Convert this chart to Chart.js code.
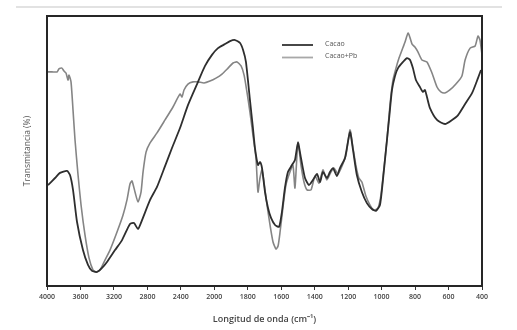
<!DOCTYPE html>
<html>
<head>
<meta charset="utf-8">
<script src="https://cdn.jsdelivr.net/npm/chart.js@4.4.1/dist/chart.umd.min.js"></script>
<style>
  body { margin: 0; background: #fff; }
  #wrap { position: relative; width: 517px; height: 330px; }
  #rule { position: absolute; left: 16px; top: 6px; width: 486px; height: 2px; background: #e2e2e2; }
</style>
</head>
<body>
<div id="wrap">
  <div id="rule"></div>
  <canvas id="myChart" width="517" height="330"></canvas>
</div>
<script>
// FTIR spectra, wavenumber (cm-1) vs transmittance (%)
var tickLabels = [4000, 3600, 3200, 2800, 2400, 2000, 1800, 1600, 1400, 1200, 1000, 800, 600, 400];

var cacaoWn = [3988,3904,3845,3761,3725,3689,3641,3570,3510,3462,3402,3342,3283,3187,3103,3008,2960,2912,2864,2768,
  2685,2589,2506,2410,2315,2195,2111,2028,1978,1936,1906,1876,1846,1828,1811,1787,1769,1757,1739,1727,
  1715,1697,1679,1661,1637,1613,1596,1578,1560,1536,1518,1500,1482,1458,1434,1410,1386,1368,1351,1327,
  1309,1291,1267,1249,1219,1189,1171,1148,1118,1088,1058,1034,1010,992,974,956,938,920,902,872,
  848,830,813,795,771,753,741,729,711,669,621,579,543,501,459,424,406];
var cacaoT = [37.4,40,41.9,42.6,41.1,35.6,23.7,13.3,7.8,5.6,5.2,6.7,8.9,13.3,17,23,23.3,21.1,24.4,31.9,
  36.7,44.4,51.1,58.5,67,75.6,81.5,85.6,88.1,89.6,90.7,91.1,90,87.4,83,68.9,58.5,51.1,44.8,45.9,
  43.7,34.8,28.9,25.2,22.6,21.9,27.4,36.3,42.2,44.8,46.7,53,47.4,40,37.4,39.3,41.5,38.5,42.2,40,
  42.2,43.7,40.7,43.7,47.4,57,50.4,41.1,34.8,30.7,28.5,27.8,30,39.3,50.4,61.5,72.6,77.8,80.7,83,
  84.4,83.7,80.7,76.3,73.7,71.9,72.6,70,65.9,61.5,60,61.5,63.3,67.4,71.5,77,80];

var cacaoPbWn = [3998,3940,3880,3857,3821,3797,3773,3749,3737,3713,3689,3665,3629,3593,3546,3498,3450,3414,3366,3307,
  3247,3163,3091,3044,3008,2984,2948,2912,2876,2852,2816,2768,2685,2589,2494,2410,2386,2362,2315,2255,
  2195,2123,2052,1990,1954,1918,1888,1864,1840,1822,1805,1787,1769,1751,1739,1727,1715,1703,1685,1667,
  1649,1631,1619,1607,1590,1572,1548,1530,1518,1500,1482,1464,1446,1422,1398,1374,1351,1327,1303,1285,
  1261,1237,1213,1189,1171,1153,1136,1118,1094,1070,1046,1022,1004,986,968,950,932,914,896,878,
  860,842,830,818,801,783,759,729,699,669,646,622,592,556,520,501,471,441,424,412,400];
var cacaoPbT = [79.3,79.3,79.3,80.4,80.7,79.6,78.9,76.3,78.1,75.6,65.2,54.1,41.1,30,18.9,10.4,5.9,5.2,5.9,9.6,
  13.3,20,26.3,31.9,37.8,38.9,34.8,31.1,34.8,42.2,49.6,53,56.7,61.5,66.3,71.1,70,72.6,74.8,75.6,
  75.6,75.2,75.9,77,78.5,80.7,82.6,83,81.5,78.1,71.9,64.4,55.9,47.4,34.8,40,43,38.5,30,22.6,
  16.3,13.7,14.8,20,28.9,37.4,42.2,44.8,36.3,53.3,44.8,38.5,35.6,35.6,40.7,38.1,43,39.3,42.2,43.7,
  41.5,44.4,48.5,57.8,51.1,44.4,40,38.5,33.3,30,28.1,28.9,33.7,43.7,54.1,67,76.3,80.7,84.4,87.4,
  90.4,93.7,91.9,89.6,88.5,86.7,83.7,83,78.9,73.7,71.9,71.5,72.6,74.8,77.8,83.7,88.1,88.9,92.6,91.1,85.6];

// the wavenumber axis is spaced by tick, not linearly (400 steps then 200 steps)
function tickPos(wn) {
  for (var i = 0; i < tickLabels.length - 1; i++) {
    var a = tickLabels[i], b = tickLabels[i + 1];
    if (wn <= a && wn >= b) return i + (a - wn) / (a - b);
  }
  return wn > tickLabels[0] ? 0 : tickLabels.length - 1;
}

function toPoints(wn, t) {
  var pts = [];
  for (var i = 0; i < wn.length; i++) pts.push({x: tickPos(wn[i]), y: t[i]});
  return pts;
}

var framePlugin = {
  id: 'frame',
  afterDraw: function(chart) {
    var c = chart.ctx, a = chart.chartArea;
    c.save();
    c.strokeStyle = '#262626';
    c.lineWidth = 2;
    c.strokeRect(a.left, a.top, a.right - a.left, a.bottom - a.top);

    // legend inside the plot
    c.font = '7px "Open Sans"';
    c.textBaseline = 'middle';
    chart.data.datasets.forEach(function(ds, i) {
      var y = 45 + i * 12.5;
      c.strokeStyle = ds.legendColor;
      c.lineWidth = 1.8;
      c.beginPath();
      c.moveTo(282, y);
      c.lineTo(313, y);
      c.stroke();
      c.fillStyle = '#555';
      c.fillText(ds.label, 325, y - 1.5);
    });
    c.restore();
  }
};

var ctx = document.getElementById('myChart').getContext('2d');
var myChart = new Chart(ctx, {
  type: 'line',
  data: {
    datasets: [{
      label: 'Cacao',
      data: toPoints(cacaoWn, cacaoT),
      borderColor: '#2e2e2e',
      legendColor: '#333',
      borderWidth: 1.8,
      pointRadius: 0,
      tension: 0.2
    }, {
      label: 'Cacao+Pb',
      data: toPoints(cacaoPbWn, cacaoPbT),
      borderColor: '#858585',
      legendColor: '#a8a8a8',
      borderWidth: 1.6,
      pointRadius: 0,
      tension: 0.2
    }]
  },
  options: {
    responsive: false,
    animation: false,
    layout: {padding: {top: 16, right: 35, left: 0, bottom: 0}},
    plugins: {legend: {display: false}, tooltip: {enabled: false}},
    scales: {
      x: {
        type: 'linear',
        min: 0,
        max: tickLabels.length - 1,
        afterBuildTicks: function(scale) {
          scale.ticks = tickLabels.map(function(v, i) { return {value: i}; });
        },
        afterFit: function(scale) { scale.height = 44; },
        ticks: {
          autoSkip: false,
          maxRotation: 0,
          padding: 3,
          color: '#444',
          font: {family: 'Open Sans', size: 7, weight: '600'},
          callback: function(v) { return tickLabels[v]; }
        },
        grid: {drawOnChartArea: false, drawTicks: true, tickLength: 4, color: '#333', lineWidth: 1},
        border: {display: false},
        title: {
          display: true,
          text: 'Longitud de onda (cm⁻¹)',
          color: '#444',
          font: {family: 'Open Sans', size: 9, weight: '600'},
          padding: {top: 0, bottom: 5}
        }
      },
      y: {
        min: 0,
        max: 100,
        afterFit: function(scale) { scale.width = 47; },
        ticks: {display: false},
        grid: {display: false},
        border: {display: false},
        title: {
          display: true,
          text: 'Transmitancia (%)',
          color: '#555',
          font: {family: 'Open Sans', size: 8.5},
          padding: {top: 22, bottom: 0}
        }
      }
    }
  },
  plugins: [framePlugin]
});
</script>
</body>
</html>
